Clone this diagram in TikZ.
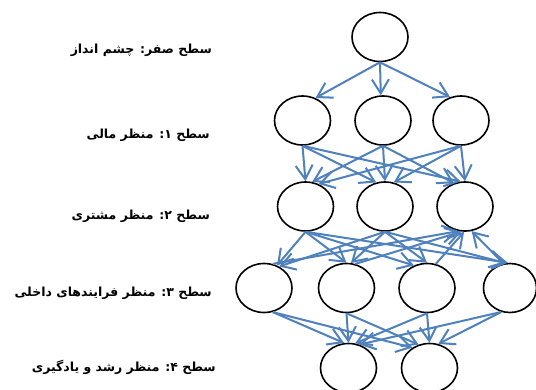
\documentclass[tikz,border=0pt]{standalone}
\usepackage{fontspec}
\newfontfamily\arabicfont[Script=Arabic]{DejaVu Sans Bold}
\TeXXeTstate=1
\usetikzlibrary{shapes.geometric,arrows.meta}
\definecolor{arrblue}{HTML}{4F81BD}
\begin{document}
\begin{tikzpicture}[x=1pt,y=-1pt,
  circ/.style={ellipse,draw=black,line width=1.6pt,minimum width=56pt,minimum height=49pt,inner sep=0pt},
  arr/.style={draw=arrblue,line width=2pt,-{Straight Barb[length=14pt,width=17pt]}},
  lbl/.style={anchor=east,inner sep=0pt,font=\arabicfont\fontsize{12.5}{15}\selectfont}]
\useasboundingbox[fill=white] (0,0) rectangle (536,389);
% nodes
\node[circ] (A) at (380,37) {};
\node[circ] (B1) at (302.5,120.5) {};
\node[circ] (B2) at (383,120.5) {};
\node[circ] (B3) at (461,120.5) {};
\node[circ] (C1) at (305.5,206.5) {};
\node[circ] (C2) at (385,206.5) {};
\node[circ] (C3) at (465,206.5) {};
\node[circ] (D1) at (264,288) {};
\node[circ] (D2) at (346.5,288) {};
\node[circ] (D3) at (427,288) {};
\node[circ,minimum width=53pt] (D4) at (510,288) {};
\node[circ] (E1) at (348.5,368) {};
\node[circ] (E2) at (429.5,368) {};
% labels
\node[lbl] (L0) at (212,50) {\beginR سطح صفر: چشم انداز\endR};
\node[lbl] (L1) at (210,135) {\beginR سطح ۱: منظر مالی\endR};
\node[lbl] (L2) at (210,216) {\beginR سطح ۲: منظر مشتری\endR};
\node[lbl] (L3) at (212,293) {\beginR سطح ۳: منظر فرایندهای داخلی\endR};
\node[lbl] (L4) at (216,367) {\beginR سطح ۴: منظر رشد و یادگیری\endR};
% level 0 -> 1
\draw[arr] (A.south) -- (B1.60);
\draw[arr] (A.south) -- (B2.95);
\draw[arr] (A.south) -- (B3.115);
% level 1 -> 2
\draw[arr] (B1.south) -- (C1.90);
\draw[arr] (B1.south) -- (C2.110);
\draw[arr] (B1.south) -- (C3.100);
\draw[arr] (B2.south) -- (C1.75);
\draw[arr] (B2.south) -- (C2.90);
\draw[arr] (B2.south) -- (C3.115);
\draw[arr] (B3.south) -- (C1.60);
\draw[arr] (B3.south) -- (C2.70);
\draw[arr] (B3.south) -- (C3.90);
% level 2 -> 3
\draw[arr] (C1.south) -- (D1.60);
\draw[arr] (C1.south) -- (D2.90);
\draw[arr] (C1.south) -- (D3.120);
\draw[arr] (C1.south) -- (D4.95);
\draw[arr] (C2.south) -- (D1.55);
\draw[arr] (C2.south) -- (D2.80);
\draw[arr] (C2.south) -- (D3.90);
\draw[arr] (C2.south) -- (D4.100);
\draw[arr] (D1.70) -- (C3.255);
\draw[arr] (D2.70) -- (C3.262);
\draw[arr] (D3.70) -- (C3.268);
\draw[arr] (D4.105) -- (C3.285);
% level 3 -> 4
\draw[arr] (D1.290) -- (E1.100);
\draw[arr] (D1.290) -- (E2.130);
\draw[arr] (D2.south) -- (E1.90);
\draw[arr] (D2.south) -- (E2.115);
\draw[arr] (D3.south) -- (E1.75);
\draw[arr] (D3.south) -- (E2.90);
\draw[arr] (D4.250) -- (E1.65);
\draw[arr] (D4.250) -- (E2.70);
\end{tikzpicture}
\end{document}
